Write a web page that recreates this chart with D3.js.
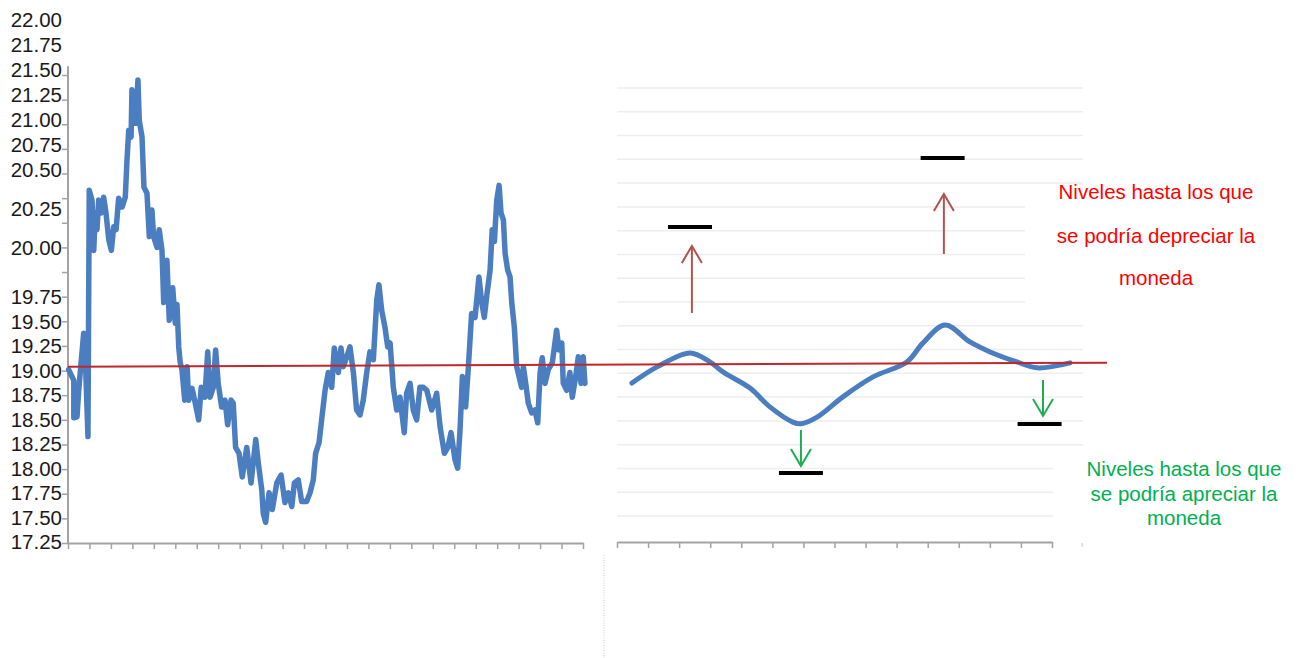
<!DOCTYPE html>
<html>
<head>
<meta charset="utf-8">
<script src="https://cdn.jsdelivr.net/npm/d3@7"></script>
<style>
  body { margin: 0; background: #fff; }
  text { font-family: "Liberation Sans", Arial, sans-serif; }
</style>
</head>
<body>
<svg width="1300" height="658"></svg>
<script>
// tick labels printed on the left axis
const yLabels = [22.00, 21.75, 21.50, 21.25, 21.00, 20.75, 20.50, 20.25, 20.00,
  19.75, 19.50, 19.25, 19.00, 18.75, 18.50, 18.25, 18.00, 17.75, 17.50, 17.25];

// left series: position along the axis (tick units) and exchange rate
const leftT = [0.03,0.27,0.27,0.42,0.50,0.57,0.73,0.81,0.93,0.99,1.12,1.20,1.27,1.35,1.43,1.55,1.66,1.77,1.90,2.02,
  2.13,2.24,2.36,2.52,2.67,2.75,2.83,2.94,2.98,3.09,3.14,3.26,3.32,3.45,3.54,3.68,3.79,3.91,3.99,4.15,
  4.25,4.38,4.46,4.61,4.72,4.88,5.00,5.08,5.16,5.23,5.31,5.44,5.55,5.62,5.78,5.93,6.09,6.21,6.38,6.51,
  6.62,6.77,6.88,7.00,7.16,7.32,7.44,7.60,7.70,7.81,7.97,8.12,8.33,8.53,8.75,8.87,9.03,9.10,9.21,9.37,
  9.52,9.73,9.93,10.11,10.27,10.43,10.55,10.73,10.89,11.12,11.28,11.43,11.54,11.70,11.82,11.98,12.13,12.29,12.41,12.60,
  12.72,12.83,12.99,13.14,13.30,13.45,13.61,13.76,13.92,14.07,14.23,14.39,14.49,14.62,14.77,14.90,15.01,15.16,15.32,15.47,
  15.67,15.78,15.94,16.09,16.25,16.40,16.56,16.72,16.95,17.18,17.34,17.54,17.70,17.85,18.04,18.16,18.27,18.38,18.53,18.65,
  18.81,18.97,19.15,19.28,19.40,19.51,19.67,19.77,19.87,19.98,20.09,20.18,20.29,20.37,20.49,20.60,20.68,20.80,20.91,21.02,
  21.14,21.22,21.33,21.45,21.61,21.76,21.89,22.00,22.10,22.23,22.38,22.57,22.77,22.88,23.01,23.08,23.24,23.39,23.50,23.66,
  23.78,23.91,24.01,24.09];
const leftV = [19.01,18.90,18.52,18.53,18.80,18.98,19.38,19.11,18.33,20.83,20.73,20.22,20.60,20.43,20.73,20.60,20.76,20.60,20.33,20.22,
  20.46,20.43,20.75,20.66,20.76,21.14,21.44,21.37,21.85,21.78,21.51,21.95,21.54,21.37,20.86,20.80,20.36,20.63,20.36,20.25,
  20.43,20.22,19.69,20.12,19.51,19.84,19.48,19.67,19.24,19.08,19.01,18.70,19.04,18.70,18.82,18.67,18.50,18.83,18.73,19.19,
  18.73,18.83,19.21,18.87,18.63,18.70,18.45,18.70,18.67,18.22,18.16,17.92,18.22,17.86,18.30,18.06,17.79,17.55,17.46,17.76,
  17.59,17.86,17.94,17.66,17.76,17.62,17.86,17.89,17.67,17.67,17.76,17.89,18.16,18.27,18.50,18.80,18.98,18.83,19.23,18.98,
  19.23,19.04,19.14,19.24,18.98,18.60,18.55,18.70,18.98,19.19,19.11,19.72,19.87,19.61,19.44,19.24,19.28,18.83,18.60,18.73,
  18.37,18.77,18.87,18.60,18.50,18.83,18.83,18.80,18.60,18.77,18.43,18.16,18.22,18.37,18.09,18.01,18.40,18.94,18.63,19.01,
  19.58,19.54,19.95,19.69,19.54,19.75,20.02,20.43,20.31,20.73,20.88,20.60,20.53,20.19,20.02,19.95,19.69,19.44,19.04,18.94,
  18.83,19.04,18.87,18.67,18.57,18.60,18.47,18.98,19.13,18.87,19.01,19.08,19.41,19.21,19.28,18.87,18.80,18.98,18.73,18.94,
  19.14,18.87,19.14,18.87];

// reference level drawn across both panels
const refLevel = [19.04, 19.08];

// right (schematic) panel: position in tick units, level in gridline units
const rightT = [0.48,1.29,2.35,2.99,3.41,4.28,4.92,5.66,5.92,6.44,7.27,8.24,9.33,9.85,10.56,11.36,12.01,12.87,13.52,14.58];
const rightG = [12.41,11.73,11.14,11.52,11.94,12.62,13.41,14.05,14.12,13.84,12.99,12.15,11.52,10.72,9.97,10.68,11.10,11.52,11.77,11.56];

// target levels (black dashes) and arrows
const targets = [
  { t: 2.35, g: 5.85 },
  { t: 10.48, g: 2.94 },
  { t: 5.92, g: 16.19 },
  { t: 13.60, g: 14.13 }
];
const arrows = [
  { t: 2.41, from: 9.46, to: 6.64, kind: "up" },
  { t: 10.52, from: 6.98, to: 4.46, kind: "up" },
  { t: 5.92, from: 14.38, to: 15.90, kind: "down" },
  { t: 13.71, from: 12.28, to: 13.79, kind: "down" }
];

const redNote = ["Niveles hasta los que", "se podría depreciar la", "moneda"];
const greenNote = ["Niveles hasta los que", "se podría apreciar la", "moneda"];

const svg = d3.select("svg");

const blue = "#4b7ec0";
const axisGray = "#a3a3a3";

// ---------- left panel ----------
const xL = d3.scaleLinear().domain([0, 24]).range([68, 583]);
const yL = d3.scaleLinear().domain([17.25, 22.0]).range([543, 75]);
// the printed labels do not sit exactly on the ticks
const yLabelPos = d3.scaleLinear()
  .domain([17.25, 19.75, 20.0, 20.25, 20.5, 22.0])
  .range([542, 297, 248, 209, 170, 20]);

const gL = svg.append("g");

const yAxisG = gL.append("g")
  .attr("transform", `translate(${xL(0)},0)`)
  .call(d3.axisLeft(yL).tickValues(d3.range(0, 20).map(i => 17.25 + i * 0.25)).tickSize(6).tickFormat(""));
yAxisG.select(".domain").remove();
yAxisG.selectAll(".tick line").attr("stroke", axisGray).attr("stroke-width", 1.5);
yAxisG.append("line")
  .attr("y1", yL(17.25)).attr("y2", yL(22.09))
  .attr("stroke", axisGray).attr("stroke-width", 2);

const xAxisG = gL.append("g")
  .attr("transform", `translate(0,${yL(17.25)})`)
  .call(d3.axisBottom(xL).ticks(24).tickSize(6).tickFormat("").tickSizeOuter(0));
xAxisG.select(".domain").attr("stroke", axisGray).attr("stroke-width", 2);
xAxisG.selectAll(".tick line").attr("stroke", axisGray).attr("stroke-width", 1.5);

gL.selectAll(".ylab").data(yLabels).enter().append("text")
  .attr("class", "ylab")
  .attr("x", 62)
  .attr("y", d => yLabelPos(d))
  .attr("dy", "0.36em")
  .attr("text-anchor", "end")
  .attr("font-size", 20.5)
  .attr("fill", "#1a1a1a")
  .text(d => d.toFixed(2));

const leftData = leftT.map((t, i) => [t, leftV[i]]);
gL.append("path")
  .datum(leftData)
  .attr("fill", "none")
  .attr("stroke", blue)
  .attr("stroke-width", 5.5)
  .attr("stroke-linejoin", "round")
  .attr("stroke-linecap", "round")
  .attr("d", d3.line().x(d => xL(d[0])).y(d => yL(d[1])));

// ---------- right panel ----------
const xR = d3.scaleLinear().domain([0, 14]).range([617, 1052]);
const yR = d3.scaleLinear().domain([0, 18]).range([88, 516]);
const gR = svg.append("g");

const gridEnd = g => (yR(g) > 195 && yR(g) < 310) ? 1025 : (yR(g) > 455 ? 1053 : 1083);
gR.selectAll(".grid").data(d3.range(0, 19)).enter().append("line")
  .attr("x1", 617).attr("x2", d => gridEnd(d))
  .attr("y1", d => yR(d)).attr("y2", d => yR(d))
  .attr("stroke", "#eeeeee").attr("stroke-width", 1.5);

const xRAxis = gR.append("g")
  .attr("transform", "translate(0,542)")
  .call(d3.axisBottom(xR).ticks(14).tickSize(6).tickFormat("").tickSizeOuter(0));
xRAxis.select(".domain").attr("stroke", axisGray).attr("stroke-width", 2);
xRAxis.selectAll(".tick line").attr("stroke", axisGray).attr("stroke-width", 1.5);
gR.append("line").attr("x1", xR(14.97)).attr("x2", xR(14.97)).attr("y1", 543).attr("y2", 547)
  .attr("stroke", "#c8c8c8").attr("stroke-width", 1);

gR.append("line")
  .attr("x1", 604).attr("x2", 604).attr("y1", 555).attr("y2", 658)
  .attr("stroke", "#cfcfcf").attr("stroke-width", 1).attr("stroke-dasharray", "1,1.5");

// reference level across both panels
svg.append("line")
  .attr("x1", xL(0)).attr("x2", xR(15.77))
  .attr("y1", yL(refLevel[0])).attr("y2", yL(refLevel[1]))
  .attr("stroke", "#c0272d").attr("stroke-width", 2);

const rightData = rightT.map((t, i) => [t, rightG[i]]);
gR.append("path")
  .datum(rightData)
  .attr("fill", "none")
  .attr("stroke", blue)
  .attr("stroke-width", 5)
  .attr("stroke-linecap", "round")
  .attr("d", d3.line().curve(d3.curveCatmullRom.alpha(0.5)).x(d => xR(d[0])).y(d => yR(d[1])));

gR.selectAll(".target").data(targets).enter().append("line")
  .attr("x1", d => xR(d.t) - 22).attr("x2", d => xR(d.t) + 22)
  .attr("y1", d => yR(d.g)).attr("y2", d => yR(d.g))
  .attr("stroke", "#000").attr("stroke-width", 4);

const arrowColor = k => k === "up" ? "#b5514e" : "#1eae52";
const ag = gR.selectAll(".arrow").data(arrows).enter().append("g");
ag.append("line")
  .attr("x1", d => xR(d.t)).attr("x2", d => xR(d.t))
  .attr("y1", d => yR(d.from)).attr("y2", d => yR(d.to))
  .attr("stroke", d => arrowColor(d.kind)).attr("stroke-width", 2);
ag.append("path")
  .attr("fill", "none")
  .attr("stroke", d => arrowColor(d.kind)).attr("stroke-width", 2)
  .attr("d", d => {
    const x = xR(d.t), y = yR(d.to);
    const s = d.kind === "up" ? 1 : -1;
    return `M${x - 10},${y + s * 17}L${x},${y}L${x + 10},${y + s * 17}`;
  });

svg.selectAll(".rnote").data(redNote).enter().append("text")
  .attr("x", 1156)
  .attr("y", (d, i) => [192, 236, 278][i])
  .attr("dy", "0.36em")
  .attr("text-anchor", "middle")
  .attr("font-size", 20.5)
  .attr("fill", "#ff0000")
  .text(d => d);

svg.selectAll(".gnote").data(greenNote).enter().append("text")
  .attr("x", 1184)
  .attr("y", (d, i) => 469 + i * 24.5)
  .attr("dy", "0.36em")
  .attr("text-anchor", "middle")
  .attr("font-size", 20.5)
  .attr("fill", "#00b050")
  .text(d => d);
</script>
</body>
</html>
